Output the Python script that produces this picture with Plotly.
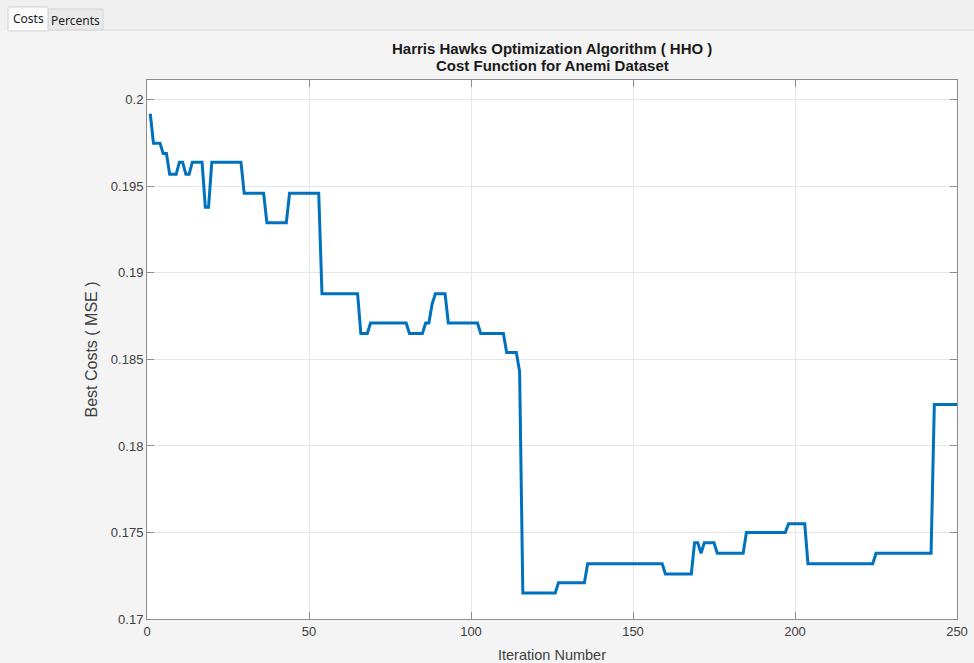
import plotly.graph_objects as go

# Vertices of the best-cost curve (iteration, cost)
iterations = [1, 2, 4, 5, 6, 7, 9, 10, 11, 12, 13, 14, 17, 18, 19, 20, 29, 30, 36, 37,
              43, 44, 53, 54, 65, 66, 68, 69, 80, 81, 85, 86, 87, 88, 89, 92, 93, 102, 103, 110,
              111, 114, 115, 116, 126, 127, 135, 136, 159, 160, 168, 169, 170, 171, 172, 175, 176, 184, 185, 197,
              198, 203, 204, 224, 225, 242, 243, 250]
best_costs = [0.1992, 0.1975, 0.1975, 0.1969, 0.1969, 0.1957, 0.1957, 0.1964, 0.1964, 0.1957,
              0.1957, 0.1964, 0.1964, 0.1938, 0.1938, 0.1964, 0.1964, 0.1946, 0.1946, 0.1929,
              0.1929, 0.1946, 0.1946, 0.1888, 0.1888, 0.1865, 0.1865, 0.1871, 0.1871, 0.1865,
              0.1865, 0.1871, 0.1871, 0.1882, 0.1888, 0.1888, 0.1871, 0.1871, 0.1865, 0.1865,
              0.1854, 0.1854, 0.1843, 0.1715, 0.1715, 0.1721, 0.1721, 0.1732, 0.1732, 0.1726,
              0.1726, 0.1744, 0.1744, 0.1738, 0.1744, 0.1744, 0.1738, 0.1738, 0.1750, 0.1750,
              0.1755, 0.1755, 0.1732, 0.1732, 0.1738, 0.1738, 0.1824, 0.1824]

x_ticks = [0, 50, 100, 150, 200, 250]
y_ticks = [0.17, 0.175, 0.18, 0.185, 0.19, 0.195, 0.2]
y_tick_text = ["0.17", "0.175", "0.18", "0.185", "0.19", "0.195", "0.2"]
tab_labels = ["Costs", "Percents"]
title_lines = ["Harris Hawks Optimization Algorithm ( HHO )", "Cost Function for Anemi Dataset"]

W, H = 974, 663
L, R, T, B = 147, 17, 80, 44
pw, ph = W - L - R, H - T - B


def px(x):
    return (x - L) / pw


def py(y):
    return (H - B - y) / ph


fig = go.Figure()
fig.add_trace(go.Scatter(x=iterations, y=best_costs, mode="lines",
                         line=dict(color="#0072BD", width=3), showlegend=False,
                         hoverinfo="x+y"))

tick_font = dict(family="Liberation Sans, Arial, sans-serif", size=13, color="#404040")
common = dict(showline=True, linecolor="#8c8c8c", linewidth=1, mirror="ticks",
              ticks="inside", ticklen=7, tickcolor="#8c8c8c",
              showgrid=True, gridcolor="#e6e6e6", gridwidth=1, zeroline=False,
              tickfont=tick_font, automargin=False)

fig.update_xaxes(range=[0, 250], tickvals=x_ticks,
                 title=dict(text="Iteration Number",
                            font=dict(family="Liberation Sans, Arial, sans-serif", size=14.5, color="#404040"),
                            standoff=12), **common)
fig.update_yaxes(range=[0.17, 0.20115], tickvals=y_ticks, ticktext=y_tick_text,
                 title=dict(text="Best Costs ( MSE )",
                            font=dict(family="Liberation Sans, Arial, sans-serif", size=16, color="#404040"),
                            standoff=9), **common)

shapes = []
# tab strip
shapes.append(dict(type="rect", xref="paper", yref="paper", x0=px(0), x1=px(W), y0=py(30), y1=py(0),
                   fillcolor="#f0f0f0", line=dict(width=0), layer="below"))
shapes.append(dict(type="line", xref="paper", yref="paper", x0=px(8), x1=px(W), y0=py(30), y1=py(30),
                   line=dict(color="#dadada", width=1)))
# tabs
shapes.append(dict(type="rect", xref="paper", yref="paper", x0=px(48), x1=px(103), y0=py(30), y1=py(9),
                   fillcolor="#e9e9e9", line=dict(color="#d4d4d4", width=1)))
shapes.append(dict(type="rect", xref="paper", yref="paper", x0=px(8), x1=px(48), y0=py(31), y1=py(7),
                   fillcolor="#fafafa", line=dict(color="#d4d4d4", width=1)))

title_font = dict(family="Liberation Sans, Arial, sans-serif", size=15, color="#1a1a1a")
annotations = [
    dict(text=tab_labels[0], xref="paper", yref="paper", x=px(28), y=py(19), showarrow=False,
         xanchor="center", yanchor="middle",
         font=dict(family="Noto Sans, Open Sans, sans-serif", size=12, color="#222222")),
    dict(text=tab_labels[1], xref="paper", yref="paper", x=px(75.5), y=py(20), showarrow=False,
         xanchor="center", yanchor="middle",
         font=dict(family="Noto Sans, Open Sans, sans-serif", size=12, color="#222222")),
    dict(text="<b>%s</b>" % title_lines[0], xref="paper", yref="paper", x=0.5, y=py(48), showarrow=False,
         xanchor="center", yanchor="middle", font=title_font),
    dict(text="<b>%s</b>" % title_lines[1], xref="paper", yref="paper", x=0.5, y=py(65), showarrow=False,
         xanchor="center", yanchor="middle", font=title_font),
]

fig.update_layout(
    width=W, height=H,
    margin=dict(l=L, r=R, t=T, b=B, pad=0, autoexpand=False),
    paper_bgcolor="#f4f4f4", plot_bgcolor="#ffffff",
    shapes=shapes, annotations=annotations,
)

fig.write_html("out.html", config={"displayModeBar": False},
               post_script="document.body.style.margin='0';document.body.style.background='#f4f4f4';")
